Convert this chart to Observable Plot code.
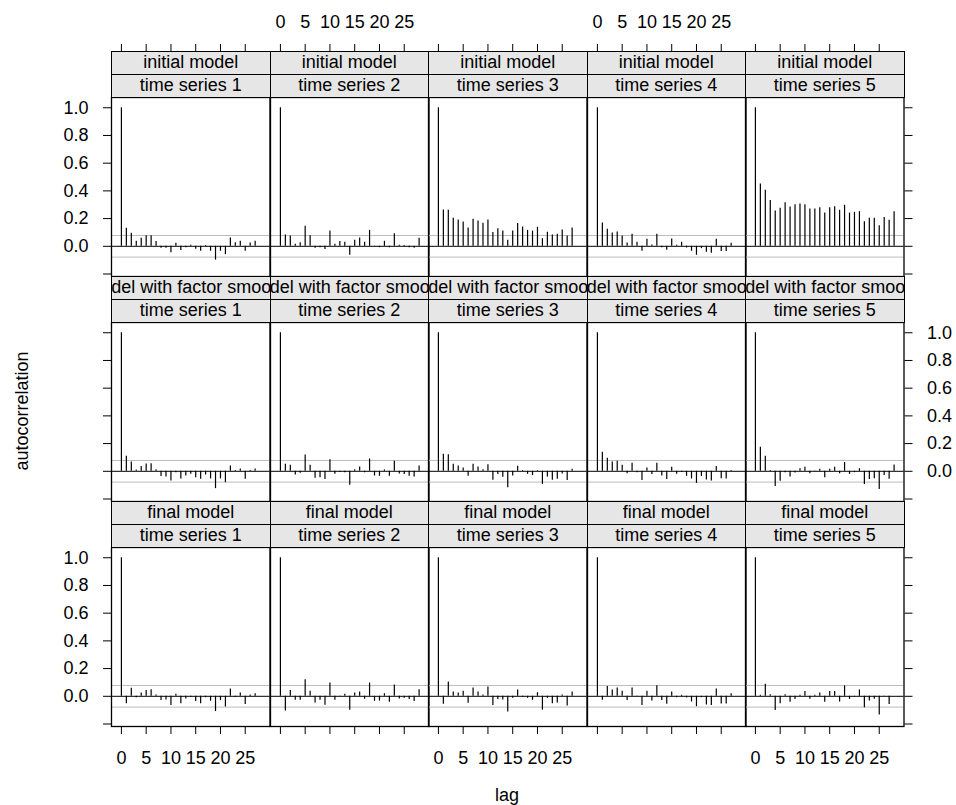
<!DOCTYPE html>
<html><head><meta charset="utf-8">
<script src="https://cdn.jsdelivr.net/npm/d3@7"></script>
<script src="https://cdn.jsdelivr.net/npm/@observablehq/plot@0.6"></script>
<style>
body{margin:0;background:#fff;}
#chart{position:relative;width:956px;height:805px;font-family:"Liberation Sans",Arial,Helvetica,sans-serif;color:#000;overflow:hidden;}
.abs{position:absolute;}
.strip{position:absolute;background:#e6e6e6;border:1px solid #000;box-sizing:border-box;overflow:hidden;white-space:nowrap;display:flex;justify-content:center;align-items:center;font-size:18px;}
.lab{position:absolute;font-size:18px;white-space:nowrap;}
</style></head><body><div id="chart"></div>
<script>
// ---- data ----
const models = ["initial model", "model with factor smooths", "final model"];
const seriesNames = ["time series 1", "time series 2", "time series 3", "time series 4", "time series 5"];
const lagTicks = [0, 5, 10, 15, 20, 25];
const acfTicks = [-0.2, 0, 0.2, 0.4, 0.6, 0.8, 1.0];
const ciBound = 0.078;

const acfInitial1 = [1.0, 0.13, 0.094, 0.036, 0.058, 0.077, 0.077, 0.034, -0.014, -0.014, -0.046, 0.022, -0.031, -0.01, 0.007, -0.022, -0.036, 0.005, -0.036, -0.10, -0.036, -0.06, 0.06, 0.026, 0.036, -0.036, 0.024, 0.036];
const acfInitial2 = [1.0, 0.082, 0.075, 0.014, 0.026, 0.144, 0.077, -0.014, -0.01, -0.024, 0.11, 0.014, 0.034, 0.029, -0.065, 0.043, 0.06, 0.029, 0.115, 0.002, -0.01, 0.036, -0.01, 0.091, 0.007, 0.005, -0.01, -0.014, 0.058];
const acfInitial3 = [1.0, 0.262, 0.26, 0.202, 0.19, 0.176, 0.132, 0.195, 0.183, 0.166, 0.19, 0.099, 0.127, 0.11, 0.043, 0.11, 0.164, 0.14, 0.115, 0.11, 0.137, 0.055, 0.101, 0.082, 0.087, 0.118, 0.075, 0.132];
const acfInitial4 = [1.0, 0.168, 0.123, 0.096, 0.103, 0.075, 0.024, 0.087, 0.029, -0.036, 0.05, 0.01, 0.087, -0.01, -0.029, 0.053, 0.007, 0.029, -0.012, -0.036, -0.065, -0.017, -0.043, -0.05, 0.05, -0.038, -0.038, 0.022];
const acfInitial5 = [1.0, 0.45, 0.404, 0.33, 0.255, 0.274, 0.315, 0.284, 0.30, 0.305, 0.30, 0.269, 0.269, 0.279, 0.24, 0.279, 0.286, 0.26, 0.296, 0.24, 0.245, 0.25, 0.178, 0.202, 0.202, 0.149, 0.207, 0.188, 0.25];

const acfFactor1 = [1.0, 0.108, 0.067, 0.01, 0.034, 0.053, 0.055, 0.012, -0.038, -0.041, -0.07, -0.01, -0.055, -0.034, -0.022, -0.046, -0.058, -0.026, -0.055, -0.125, -0.055, -0.082, 0.038, 0.005, 0.017, -0.058, 0.005, 0.017];
const acfFactor2 = [1.0, 0.05, 0.043, -0.026, -0.014, 0.118, 0.043, -0.05, -0.046, -0.06, 0.084, -0.022, -0.007, -0.01, -0.10, 0.012, 0.031, -0.01, 0.089, -0.034, -0.036, 0.01, -0.036, 0.072, -0.019, -0.024, -0.036, -0.041, 0.038];
const acfFactor3 = [1.0, 0.123, 0.12, 0.05, 0.038, 0.024, -0.036, 0.05, 0.031, 0.012, 0.048, -0.065, -0.024, -0.043, -0.118, -0.034, 0.036, 0.005, -0.022, -0.031, 0.005, -0.094, -0.041, -0.065, -0.058, -0.019, -0.067, 0.014];
const acfFactor4 = [1.0, 0.137, 0.094, 0.067, 0.072, 0.043, -0.017, 0.058, -0.01, -0.067, 0.024, -0.024, 0.058, -0.034, -0.06, 0.029, -0.022, -0.007, -0.036, -0.055, -0.087, -0.038, -0.063, -0.07, 0.034, -0.053, -0.055, 0.005];
const acfFactor5 = [1.0, 0.173, 0.108, 0.005, -0.11, -0.072, -0.01, -0.041, -0.012, 0.019, 0.029, -0.017, -0.002, 0.014, -0.046, 0.014, 0.029, -0.017, 0.063, -0.022, -0.01, 0.019, -0.096, -0.06, -0.053, -0.132, -0.031, -0.058, 0.046];

const acfFinal1 = [1.0, -0.053, 0.058, -0.01, 0.024, 0.041, 0.048, 0.01, -0.031, -0.026, -0.067, 0.014, -0.053, -0.019, -0.007, -0.038, -0.053, -0.01, -0.036, -0.11, -0.031, -0.077, 0.053, -0.007, 0.024, -0.06, 0.01, 0.019];
const acfFinal2 = [1.0, -0.106, 0.041, -0.029, -0.029, 0.12, 0.036, -0.048, -0.029, -0.065, 0.096, -0.029, -0.002, 0.014, -0.10, 0.024, 0.031, -0.022, 0.096, -0.036, -0.034, 0.019, -0.043, 0.082, -0.019, -0.014, -0.024, -0.038, 0.048];
const acfFinal3 = [1.0, -0.058, 0.103, 0.031, 0.024, 0.036, -0.05, 0.06, 0.031, 0.01, 0.067, -0.067, -0.024, -0.026, -0.113, -0.014, 0.046, -0.007, -0.014, -0.029, 0.026, -0.10, -0.014, -0.053, -0.048, 0.01, -0.07, 0.031];
const acfFinal4 = [1.0, -0.029, 0.07, 0.046, 0.06, 0.036, -0.031, 0.06, 0.002, -0.067, 0.036, -0.034, 0.077, -0.031, -0.058, 0.031, -0.01, 0.007, -0.012, -0.041, -0.075, -0.01, -0.063, -0.067, 0.053, -0.055, -0.055, 0.019];
const acfFinal5 = [1.0, 0.007, 0.087, 0.012, -0.103, -0.053, 0.012, -0.043, -0.024, 0.007, 0.034, -0.022, 0.007, 0.024, -0.043, 0.034, 0.034, -0.041, 0.075, -0.022, -0.005, 0.046, -0.082, -0.034, -0.022, -0.135, 0.002, -0.06];

const acfRows = [
  [acfInitial1, acfInitial2, acfInitial3, acfInitial4, acfInitial5],
  [acfFactor1, acfFactor2, acfFactor3, acfFactor4, acfFactor5],
  [acfFinal1, acfFinal2, acfFinal3, acfFinal4, acfFinal5]
];

// ---- layout ----
const L0 = 111, PW = 158.5, T0 = 96.5, PH = 179, RS = 225, SH = 23;
const xDomain = [-2, 30];
const yDomain = [-0.218, 1.074];
const FONT = '"Liberation Sans", Arial, Helvetica, sans-serif';
const fmt = d3.format(".1f");
const chart = document.getElementById("chart");
const baseStyle = {fontSize: "18px", fontFamily: FONT, color: "#000", background: "transparent", overflow: "visible"};

function place(node, left, top) {
  const d = document.createElement("div");
  d.className = "abs";
  d.style.left = left + "px";
  d.style.top = top + "px";
  d.appendChild(node);
  chart.appendChild(d);
}

function strip(text, left, top) {
  const s = document.createElement("div");
  s.className = "strip";
  Object.assign(s.style, {left: left + "px", top: top + "px", width: (PW + 1) + "px", height: (SH + 1) + "px"});
  const t = document.createElement("span");
  t.textContent = text;
  s.appendChild(t);
  chart.appendChild(s);
}

for (let r = 0; r < 3; r++) {
  for (let c = 0; c < 5; c++) {
    const left = L0 + c * PW, top = T0 + r * RS;
    const data = acfRows[r][c].map((v, i) => ({lag: i, acf: v}));
    const ml = c === 0 ? 111 : 0;
    const mr = c === 4 ? 956 - (L0 + 5 * PW) : 0;
    const mb = r === 2 ? 50 : 0;
    const marks = [
      Plot.ruleY([ciBound, -ciBound], {stroke: "#bdbdbd", strokeWidth: 1}),
      Plot.ruleY([0], {stroke: "#000", strokeWidth: 1}),
      Plot.ruleX(data, {x: "lag", y1: 0, y2: "acf", stroke: "#000", strokeWidth: 1.2}),
      Plot.frame({stroke: "#000", strokeWidth: 1.3})
    ];
    if (c === 0) marks.push(Plot.axisY(acfTicks, {anchor: "left", label: null, tickSize: 8, tickPadding: 15, tickFormat: v => (r === 1 || v < 0) ? "" : fmt(v)}));
    if (c === 4) marks.push(Plot.axisY(acfTicks, {anchor: "right", label: null, tickSize: 8, tickPadding: 15, tickFormat: v => (r !== 1 || v < 0) ? "" : fmt(v)}));
    if (r === 2) marks.push(Plot.axisX(lagTicks, {anchor: "bottom", label: null, tickSize: 8, tickPadding: 17, tickFormat: v => (c % 2 === 0) ? String(v) : ""}));
    const p = Plot.plot({
      width: ml + PW + mr, height: PH + mb,
      marginLeft: ml, marginRight: mr, marginTop: 0, marginBottom: mb,
      x: {domain: xDomain, axis: null}, y: {domain: yDomain, axis: null},
      style: baseStyle,
      marks
    });
    place(p, left - ml, top);
    strip(models[r], left, top - 2 * SH);
    strip(seriesNames[c], left, top - SH);
  }
}
// top axis above first row strips
for (let c = 0; c < 5; c++) {
  const left = L0 + c * PW;
  const p = Plot.plot({
    width: PW, height: 52, marginLeft: 0, marginRight: 0, marginTop: 50, marginBottom: 2,
    x: {domain: xDomain, axis: null},
    style: baseStyle,
    marks: [Plot.axisX(lagTicks, {anchor: "top", label: null, tickSize: 8, tickPadding: 16, tickFormat: v => (c % 2 === 1) ? String(v) : ""})]
  });
  place(p, left, T0 - 2 * SH - 50);
}

// axis titles
const yl = document.createElement("div");
yl.className = "lab";
yl.textContent = "autocorrelation";
Object.assign(yl.style, {left: "22px", top: "411px", transform: "translate(-50%,-50%) rotate(-90deg)"});
chart.appendChild(yl);
const xl = document.createElement("div");
xl.className = "lab";
xl.textContent = "lag";
Object.assign(xl.style, {left: "507px", top: "795px", transform: "translate(-50%,-50%)"});
chart.appendChild(xl);
</script></body></html>
